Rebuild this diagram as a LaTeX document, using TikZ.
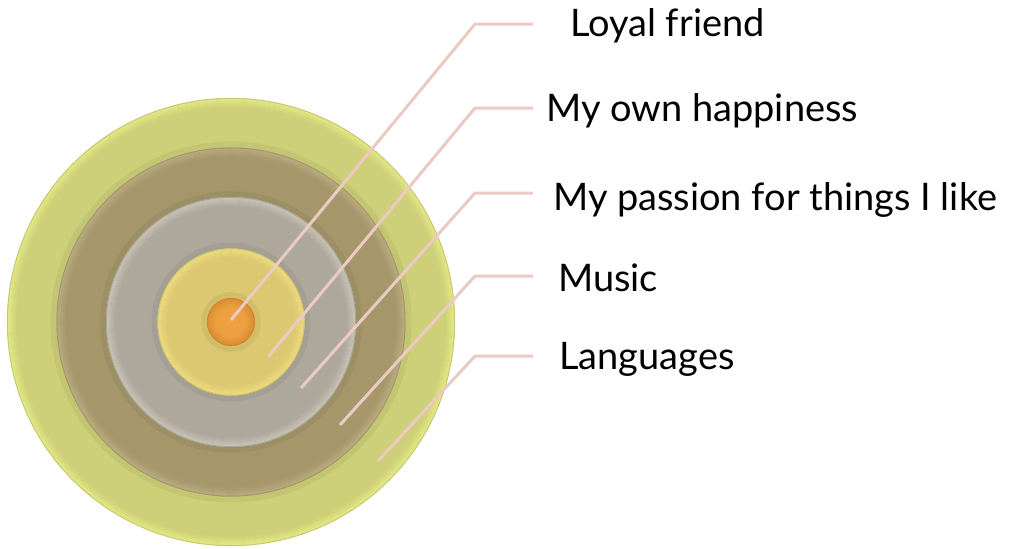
\documentclass[tikz,border=0pt]{standalone}
\usepackage{fontspec}
\setmainfont{Lato}
\definecolor{outerbase}{HTML}{CDD078}
\definecolor{outerrim}{HTML}{E6EA84}
\definecolor{outeredge}{HTML}{B4B774}
\definecolor{brownbase}{HTML}{A6976B}
\definecolor{brownrim}{HTML}{BBAD80}
\definecolor{brownedge}{HTML}{978A62}
\definecolor{graybase}{HTML}{ADA89B}
\definecolor{grayrim}{HTML}{CAC5B9}
\definecolor{grayedge}{HTML}{9C9787}
\definecolor{yelbase}{HTML}{DCC870}
\definecolor{yelrim}{HTML}{EEDD80}
\definecolor{yeledge}{HTML}{C8B862}
\definecolor{orbase}{HTML}{EEA040}
\definecolor{orrim}{HTML}{D98C30}
\definecolor{oredge}{HTML}{C9802C}
\definecolor{connpink}{HTML}{ECCAC4}
\newlength{\lablen}
\newcommand{\bevdisk}[6]{%
  \foreach \i in {1,...,6}{%
    \pgfmathsetmacro{\rs}{#2+\i-0.5}%
    \draw[black, opacity=#6, line width=1pt] (#1) circle (\rs pt);
  }
  \fill[#3] (#1) circle (#2 pt);
  \foreach \i in {0,...,8}{%
    \pgfmathsetmacro{\rr}{#2-0.6-\i}%
    \pgfmathtruncatemacro{\pp}{100-\i*11}%
    \draw[#4!\pp!#3, line width=1.2pt] (#1) circle (\rr pt);
  }
  \pgfmathsetmacro{\re}{#2-0.4}%
  \draw[#5, line width=0.8pt, opacity=0.7] (#1) circle (\re pt);
}
\begin{document}
\settowidth{\lablen}{\fontsize{10pt}{12pt}\selectfont My passion for things I like}%
\pgfmathsetmacro{\fs}{10*444/\lablen}%
\begin{tikzpicture}[x=1pt,y=-1pt]
\tikzset{
  lab/.style={anchor=base west, inner sep=0pt, text=black, font=\fontsize{\fs pt}{\fs pt}\selectfont},
  conn/.style={draw=connpink, line width=3pt, line join=round}
}
\useasboundingbox (0,0) rectangle (1013,549);
\fill[white] (0,0) rectangle (1013,549);
\coordinate (c) at (231,322);
\bevdisk{c}{224}{outerbase}{outerrim}{outeredge}{0}
\bevdisk{c}{174.5}{brownbase}{brownrim}{brownedge}{0.045}
\bevdisk{c}{125}{graybase}{grayrim}{grayedge}{0.045}
\bevdisk{c}{73.5}{yelbase}{yelrim}{yeledge}{0.045}
\bevdisk{c}{24}{orbase}{orrim}{oredge}{0.045}
% labels
\node[lab] (l1) at (570,36) {Loyal friend};
\node[lab] (l2) at (546,121) {My own happiness};
\node[lab] (l3) at (553,210) {My passion for things I like};
\node[lab] (l4) at (558,291) {Music};
\node[lab] (l5) at (559,369) {Languages};
% connectors
\coordinate (s1) at (231,320); \coordinate (e1) at (475,24);  \coordinate (h1) at (533,24);
\coordinate (s2) at (268,357); \coordinate (e2) at (475,108); \coordinate (h2) at (533,108);
\coordinate (s3) at (301,388); \coordinate (e3) at (475,193); \coordinate (h3) at (533,193);
\coordinate (s4) at (340,425); \coordinate (e4) at (475,276); \coordinate (h4) at (533,276);
\coordinate (s5) at (378,461); \coordinate (e5) at (475,356); \coordinate (h5) at (533,356);
\draw[conn] (s1) -- (e1) -- (h1);
\draw[conn] (s2) -- (e2) -- (h2);
\draw[conn] (s3) -- (e3) -- (h3);
\draw[conn] (s4) -- (e4) -- (h4);
\draw[conn] (s5) -- (e5) -- (h5);
\end{tikzpicture}
\end{document}
